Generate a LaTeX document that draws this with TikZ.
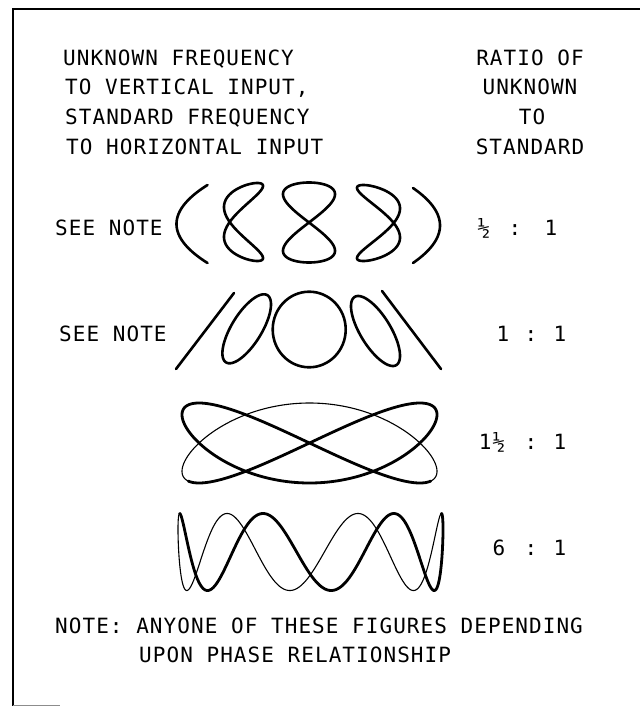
\documentclass[tikz,border=0pt]{standalone}
\usepackage{fontspec}
\newfontfamily\lbl[LetterSpace=5]{DejaVu Sans Mono}
\begin{document}
\begin{tikzpicture}[x=1pt,y=-1pt,
  lab/.style={font={\lbl\fontsize{21}{25}\selectfont},inner sep=0pt,anchor=base west},
  labc/.style={lab,anchor=base},
  fig/.style={line width=2.6pt,line join=round,line cap=round},
  thk/.style={line width=2.8pt,line join=round,line cap=round},
  thn/.style={line width=1.1pt,line join=round,line cap=round},
  frame/.style={line width=1.8pt}]
\useasboundingbox (0,0) rectangle (640,706);
\fill[white] (0,0) rectangle (640,706);
% frame
\draw[frame] (13,706) -- (13,9) -- (640,9);
\draw[line width=1pt,black!45] (13,705) -- (60,705);
% header left
\node[lab] (h1) at (63,65.6) {UNKNOWN FREQUENCY};
\node[lab] (h2) at (65,94.6) {TO VERTICAL INPUT,};
\node[lab] (h3) at (65,124.6) {STANDARD FREQUENCY};
\node[lab] (h4) at (66,154.6) {TO HORIZONTAL INPUT};
% header right
\node[labc] (r1) at (530,65.6) {RATIO OF};
\node[labc] (r2) at (530,94.6) {UNKNOWN};
\node[labc] (r3) at (532,124.6) {TO};
\node[labc] (r4) at (530,154.6) {STANDARD};
% row labels
\node[lab] (s1) at (55,235.6) {SEE NOTE};
\node[lab] (s2) at (59,341.6) {SEE NOTE};
% ratios
\node[labc] (a1) at (484,235.6) {½};
\node[labc] (c1) at (515,235.6) {:};
\node[labc] (b1) at (551,235.6) {1};
\node[labc] (a2) at (503,341) {1};
\node[labc] (c2) at (531,341) {:};
\node[labc] (b2) at (560,341) {1};
\node[labc] (a3) at (492,449.3) {1½};
\node[labc] (c3) at (531,449.3) {:};
\node[labc] (b3) at (560,449.3) {1};
\node[labc] (a4) at (499,555.6) {6};
\node[labc] (c4) at (531,555.6) {:};
\node[labc] (b4) at (560,555.6) {1};
% note
\node[lab] (n1) at (55,633.6) {NOTE: ANYONE OF THESE FIGURES DEPENDING};
\node[lab] (n2) at (139,662.6) {UPON PHASE RELATIONSHIP};
% row 1 : 1/2 : 1
\draw[fig] plot[variable=\t,domain=-90:90,samples=121] ({192+15.5*sin(2*\t-90)},{224-39*sin(\t)});
\draw[fig] plot[variable=\t,domain=0:360,samples=241] ({243.5+19.5*sin(2*\t-45)},{222-39*sin(\t)});
\draw[fig] plot[variable=\t,domain=0:360,samples=241] ({309+26*sin(2*\t)},{222.5-40*sin(\t)});
\draw[fig] plot[variable=\t,domain=0:360,samples=241] ({378.5+21.5*sin(2*\t+45)},{223-38*sin(\t)});
\draw[fig] plot[variable=\t,domain=-90:90,samples=121] ({426.5+13.5*sin(2*\t+90)},{225.5-37.5*sin(\t)});
% row 2 : 1 : 1
\coordinate (l1a) at (176,369); \coordinate (l1b) at (234,293);
\draw[fig] (l1a) -- (l1b);
\draw[fig] plot[variable=\t,domain=0:360,samples=181] ({246.7+24.3*sin(\t+45)},{328.8-34.5*sin(\t)});
\draw[fig] (309.2,329.5) ellipse [x radius=36.5,y radius=37.8];
\draw[fig] plot[variable=\t,domain=0:360,samples=181] ({375.5+24.5*sin(\t+135)},{331-35*sin(\t)});
\coordinate (l2a) at (382,291); \coordinate (l2b) at (441,369);
\draw[fig] (l2a) -- (l2b);
% row 3 : 1 1/2 : 1
\draw[thk] plot[variable=\t,domain=-36:216,samples=301] ({309.5+127.5*sin(2*\t)},{443-40*sin(3*\t)});
\draw[thn] plot[variable=\t,domain=216:324,samples=151] ({309.5+127.5*sin(2*\t)},{443-40*sin(3*\t)});
% row 4 : 6 : 1
\draw[thk] plot[variable=\t,domain=-81:99,samples=361] ({310.5+132.5*sin(\t)},{552-38.5*sin(6*\t-144)});
\draw[thn] plot[variable=\t,domain=99:279,samples=361] ({310.5+132.5*sin(\t)},{552-38.5*sin(6*\t-144)});
\end{tikzpicture}
\end{document}
